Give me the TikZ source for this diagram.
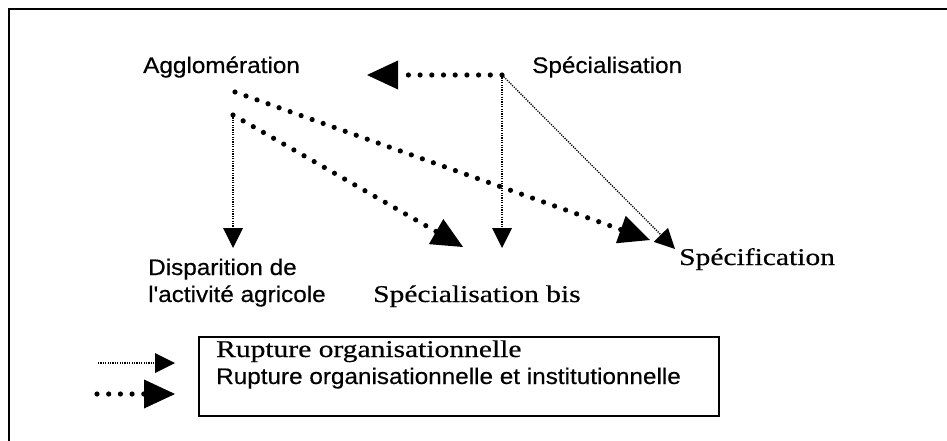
\documentclass[tikz,border=0pt]{standalone}
\usepackage{fontspec}
\usetikzlibrary{arrows.meta}
\newfontfamily\lsans[FakeStretch=1.08,FakeBold=0.4]{Liberation Sans}
\newfontfamily\lserif[FakeStretch=1.23,FakeBold=0.5]{Liberation Serif}
\tikzset{
  sanslbl/.style={inner sep=0pt, anchor=base west, font=\lsans\fontsize{22.5}{26}\selectfont},
  seriflbl/.style={inner sep=0pt, anchor=base west, font=\lserif\fontsize{24}{26}\selectfont},
  bigdot/.style={line width=5.2pt, dash pattern=on 0pt off 11.7pt, line cap=round,
    -{Triangle[length=31pt,width=29pt,line width=0pt]}},
  finedot/.style={line width=1.3pt, dash pattern=on 1.2pt off 1.2pt,
    -{Triangle[length=20pt,width=20pt,line width=0pt]}},
  legendbox/.style={draw, line width=1.5pt, inner sep=0pt, anchor=north west,
    minimum width=520pt, minimum height=79pt}
}
\begin{document}
\begin{tikzpicture}[x=1pt,y=-1pt]
\useasboundingbox (0,0) rectangle (947,441);
% outer frame (only top and left visible)
\draw[line width=2.2pt] (9,445) -- (9,9) -- (950,9);

% labels
\node[sanslbl] (agg) at (143,73) {Agglomération};
\node[sanslbl] (spe) at (532,73) {Spécialisation};
\node[sanslbl] (disp1) at (148,275) {Disparition de};
\node[sanslbl] (disp2) at (148,302) {l'activité agricole};
\node[seriflbl] (spebis) at (373,302) {Spécialisation bis};
\node[seriflbl] (specif) at (679,265) {Spécification};

% connector end points
\coordinate (s0) at (502,75);
\coordinate (a1) at (235,92);
\coordinate (a2) at (233,115);
\coordinate (tAgg) at (367,75);
\coordinate (tBisThin) at (502,248);
\coordinate (tSpecThin) at (675,249);
\coordinate (tSpecBig) at (650,240);
\coordinate (tBisBig) at (463,247);
\coordinate (tDisp) at (233,248);

\draw[bigdot] (s0) -- (tAgg);
\draw[finedot] (s0) -- (tBisThin);
\draw[finedot] (s0) -- (tSpecThin);
\draw[bigdot] (a1) -- (tSpecBig);
\draw[bigdot] (a2) -- (tBisBig);
\draw[finedot] (a2) -- (tDisp);

% legend
\node[legendbox] (leg) at (198,336) {};
\node[seriflbl] (leg1) at (216,357) {Rupture organisationnelle};
\node[sanslbl] (leg2) at (216,384) {Rupture organisationnelle et institutionnelle};
\coordinate (l1s) at (98,363);
\coordinate (l1e) at (175,363);
\coordinate (l2s) at (97,394);
\coordinate (l2e) at (175,394);
\draw[finedot] (l1s) -- (l1e);
\draw[bigdot] (l2s) -- (l2e);
\end{tikzpicture}
\end{document}
